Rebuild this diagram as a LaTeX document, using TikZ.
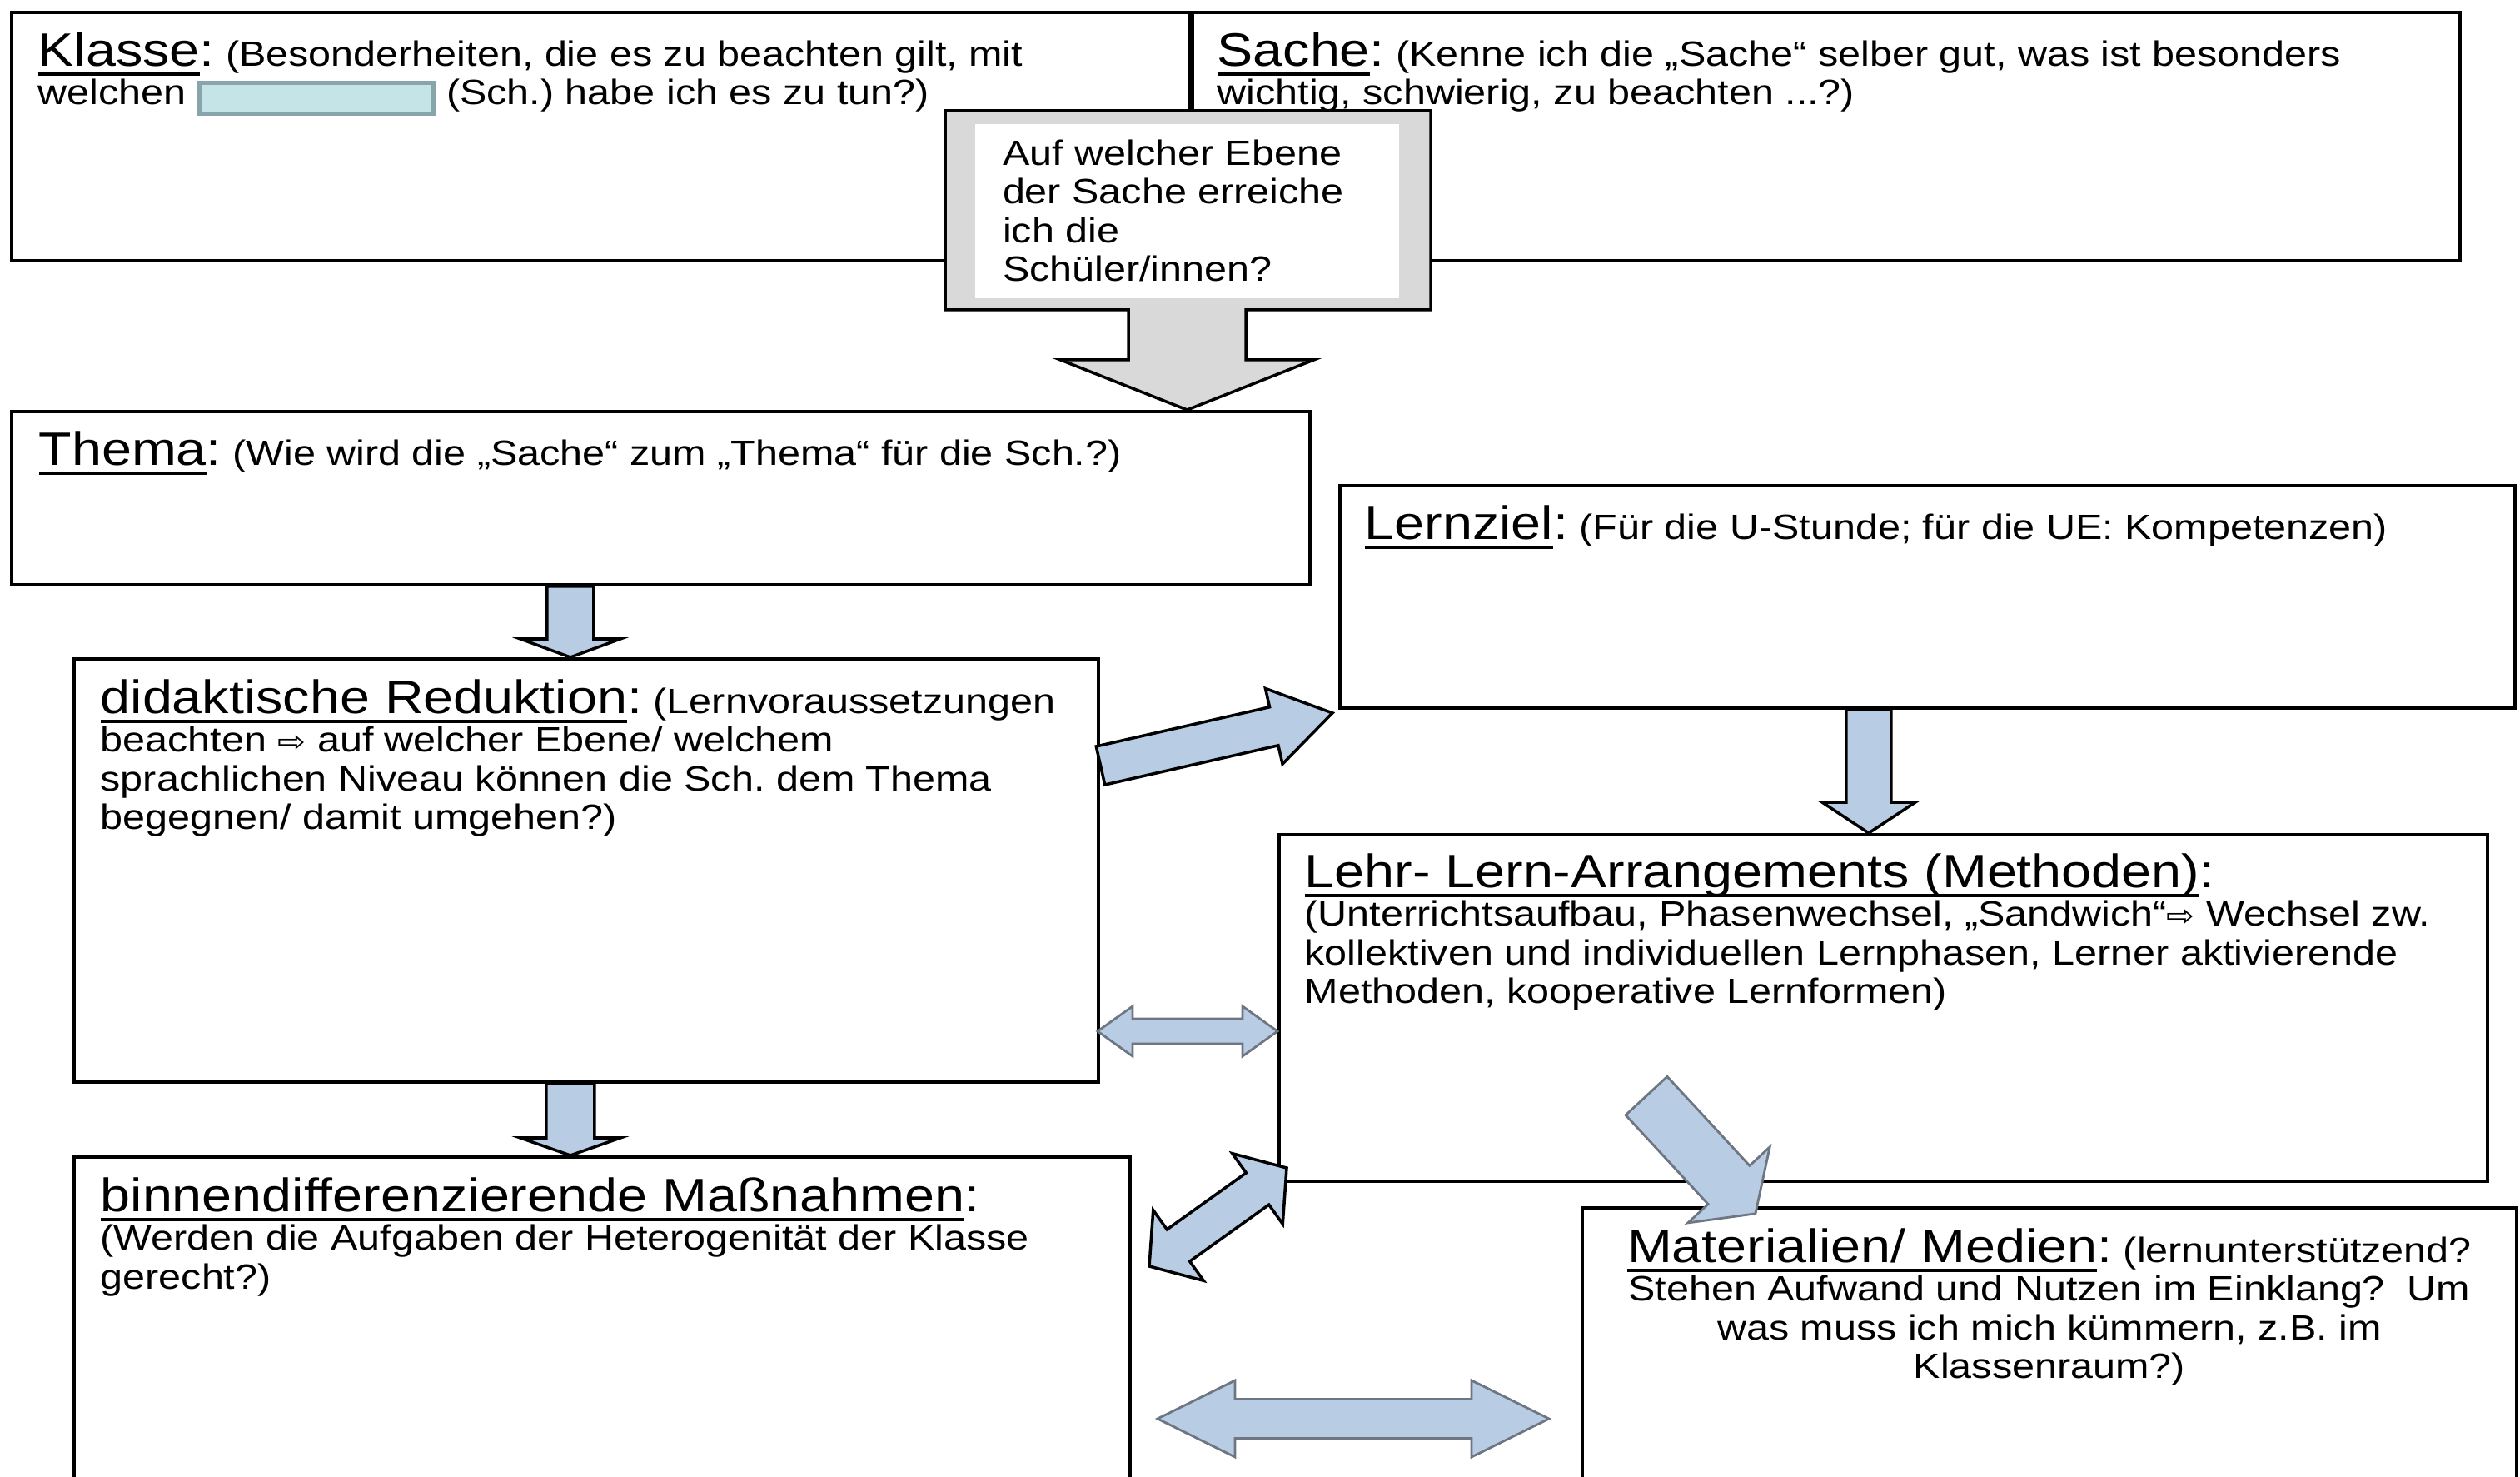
\documentclass[tikz,border=0pt]{standalone}
\usepackage{fontspec}
\setmainfont{Liberation Sans}[FakeStretch=1.15]
\newfontfamily\pfeilschrift{DejaVu Sans}[FakeStretch=1.15]
\usetikzlibrary{calc,positioning}

\definecolor{pfeilblau}{RGB}{184,204,228}
\definecolor{kastengrau}{RGB}{217,217,217}
\definecolor{randgrau}{RGB}{110,118,130}
\definecolor{schwaerzfuellung}{RGB}{196,228,232}
\definecolor{schwaerzrand}{RGB}{135,165,170}

\newcommand{\kopf}[1]{{\fontsize{16}{13.2}\selectfont\sbox0{#1}\rlap{\rule[-3.2pt]{\wd0}{1pt}}\usebox0:}}
\newcommand{\folgt}{{\pfeilschrift\fontsize{10}{10}\selectfont ⇨}}
\newcommand{\geschwaerzt}{{\setlength{\fboxsep}{0pt}\setlength{\fboxrule}{1.5pt}\fcolorbox{schwaerzrand}{schwaerzfuellung}{\rule[-0.08cm]{0pt}{0.32cm}\hspace{2.75cm}}}}

\newcommand{\blockpfeil}[6][pfeil]{%
  \draw[#1] let \p1=(#2), \p2=(#3), \n1={atan2(\y2-\y1,\x2-\x1)}, \n2={veclen(\x2-\x1,\y2-\y1)} in
    [shift={(\p1)}, rotate=\n1]
    (0cm,#4) -- (\n2-#6,#4) -- (\n2-#6,#5) -- (\n2,0cm) -- (\n2-#6,-#5) -- (\n2-#6,-#4) -- (0cm,-#4) -- cycle;
}
\newcommand{\doppelpfeil}[6][pfeil]{%
  \draw[#1] let \p1=(#2), \p2=(#3), \n1={atan2(\y2-\y1,\x2-\x1)}, \n2={veclen(\x2-\x1,\y2-\y1)} in
    [shift={(\p1)}, rotate=\n1]
    (0cm,0cm) -- (#6,#5) -- (#6,#4) -- (\n2-#6,#4) -- (\n2-#6,#5) -- (\n2,0cm)
    -- (\n2-#6,-#5) -- (\n2-#6,-#4) -- (#6,-#4) -- (#6,-#5) -- cycle;
}

\tikzset{
  kasten/.style={draw, line width=1.1pt, fill=white, inner sep=0pt, anchor=north west},
  inhalt/.style={inner sep=0pt, align=left, font=\fontsize{12}{13.2}\selectfont\frenchspacing},
  pfeil/.style={fill=pfeilblau, draw=black, line width=1pt, line join=miter},
  pfeilgrau/.style={fill=pfeilblau, draw=randgrau, line width=0.8pt, line join=miter}
}

\begin{document}
\begin{tikzpicture}
  \useasboundingbox (0,0) rectangle (30.26,17.72);
  \clip (0,0) rectangle (30.26,17.72);

  % Kaesten
  \node[kasten, minimum width=14.14cm, minimum height=2.98cm] (klasse) at (0.12,17.59) {};
  \node[kasten, minimum width=15.22cm, minimum height=2.98cm] (sache) at (klasse.north east) {};
  \node[kasten, minimum width=15.59cm, minimum height=2.08cm] (thema) at (0.12,12.80) {};
  \node[kasten, minimum width=14.11cm, minimum height=2.67cm] (lernziel) at (16.07,11.91) {};
  \node[kasten, minimum width=12.30cm, minimum height=5.08cm] (reduktion) at (0.87,9.83) {};
  \node[kasten, minimum width=14.51cm, minimum height=4.16cm] (methoden) at (15.34,7.72) {};
  \node[kasten, minimum width=12.68cm, minimum height=4.20cm] (binnen) at (0.87,3.85) {};
  \node[kasten, minimum width=11.22cm, minimum height=3.60cm] (material) at (18.98,3.24) {};

  \node[inhalt, below right=0.25cm and 0.33cm of klasse.north west] (klasse-text)
    {\kopf{Klasse} (Besonderheiten, die es zu beachten gilt, mit\\welchen \geschwaerzt{} (Sch.) habe ich es zu tun?)};
  \node[inhalt, below right=0.25cm and 0.31cm of sache.north west] (sache-text)
    {\kopf{Sache} (Kenne ich die „Sache“ selber gut, was ist besonders\\wichtig, schwierig, zu beachten ...?)};
  \node[inhalt, below right=0.25cm and 0.34cm of thema.north west] (thema-text)
    {\kopf{Thema} (Wie wird die „Sache“ zum „Thema“ für die Sch.?)};
  \node[inhalt, below right=0.25cm and 0.31cm of lernziel.north west] (lernziel-text)
    {\kopf{Lernziel} (Für die U-Stunde; für die UE: Kompetenzen)};
  \node[inhalt, below right=0.26cm and 0.33cm of reduktion.north west] (reduktion-text)
    {\kopf{didaktische Reduktion} (Lernvoraussetzungen\\beachten \folgt{} auf welcher Ebene/ welchem\\sprachlichen Niveau können die Sch. dem Thema\\begegnen/ damit umgehen?)};
  \node[inhalt, below right=0.24cm and 0.32cm of methoden.north west] (methoden-text)
    {\kopf{Lehr- Lern-Arrangements (Methoden)}\\(Unterrichtsaufbau, Phasenwechsel, „Sandwich“\folgt{} Wechsel zw.\\kollektiven und individuellen Lernphasen, Lerner aktivierende\\Methoden, kooperative Lernformen)};
  \node[inhalt, below right=0.26cm and 0.33cm of binnen.north west] (binnen-text)
    {\kopf{binnendifferenzierende Maßnahmen}\\(Werden die Aufgaben der Heterogenität der Klasse\\gerecht?)};
  \node[inhalt, align=center, below=0.26cm of material.north] (material-text)
    {\kopf{Materialien/ Medien} (lernunterstützend?\\Stehen Aufwand und Nutzen im Einklang?\ \ Um\\was muss ich mich kümmern, z.B. im\\Klassenraum?)};

  % Legende oben mit Pfeil
  \coordinate (fragemitte) at (14.255,15.185);
  \draw[line width=1pt, fill=kastengrau] ($(fragemitte)+(-2.905,1.205)$) -- ($(fragemitte)+(2.925,1.205)$)
    -- ($(fragemitte)+(2.925,-1.185)$) -- ($(fragemitte)+(0.705,-1.185)$) -- ($(fragemitte)+(0.705,-1.785)$)
    -- ($(fragemitte)+(1.52,-1.785)$) -- (fragemitte |- thema.north) -- ($(fragemitte)+(-1.52,-1.785)$)
    -- ($(fragemitte)+(-0.705,-1.785)$) -- ($(fragemitte)+(-0.705,-1.185)$) -- ($(fragemitte)+(-2.905,-1.185)$) -- cycle;
  \node[fill=white, inner sep=0pt, minimum width=5.09cm, minimum height=2.09cm] (frage) at (fragemitte) {};
  \node[inhalt, below right=0.19cm and 0.33cm of frage.north west] (frage-text)
    {Auf welcher Ebene\\der Sache erreiche\\ich die\\Schüler/innen?};

  % Blockpfeile
  \coordinate (a1) at ($(reduktion.north)+(-0.19,0)$);
  \coordinate (c1) at ($(methoden.north)+(-0.175,0)$);
  \coordinate (e1) at (13.215,8.53);
  \coordinate (e2) at ($(lernziel.south west)+(-0.07,-0.04)$);
  \coordinate (f1) at (13.18,5.34);
  \coordinate (g1) at (13.80,2.52);
  \coordinate (g2) at (15.45,3.70);
  \coordinate (h1) at (19.77,4.565);
  \coordinate (h2) at (21.08,3.15);
  \coordinate (i1) at (13.90,0.69);
  \coordinate (i2) at (18.60,0.69);

  \blockpfeil{thema.south -| a1}{a1}{0.28cm}{0.60cm}{0.22cm}
  \blockpfeil{reduktion.south -| a1}{binnen.north -| a1}{0.29cm}{0.60cm}{0.21cm}
  \blockpfeil{lernziel.south -| c1}{c1}{0.27cm}{0.56cm}{0.37cm}
  \blockpfeil{e1}{e2}{0.236cm}{0.465cm}{0.72cm}
  \doppelpfeil[pfeilgrau]{f1}{methoden.west |- f1}{0.15cm}{0.30cm}{0.42cm}
  \doppelpfeil{g1}{g2}{0.235cm}{0.52cm}{0.43cm}
  \blockpfeil[pfeilgrau]{h1}{h2}{0.34cm}{0.67cm}{0.47cm}
  \doppelpfeil[pfeilgrau]{i1}{i2}{0.235cm}{0.46cm}{0.93cm}
\end{tikzpicture}
\end{document}
